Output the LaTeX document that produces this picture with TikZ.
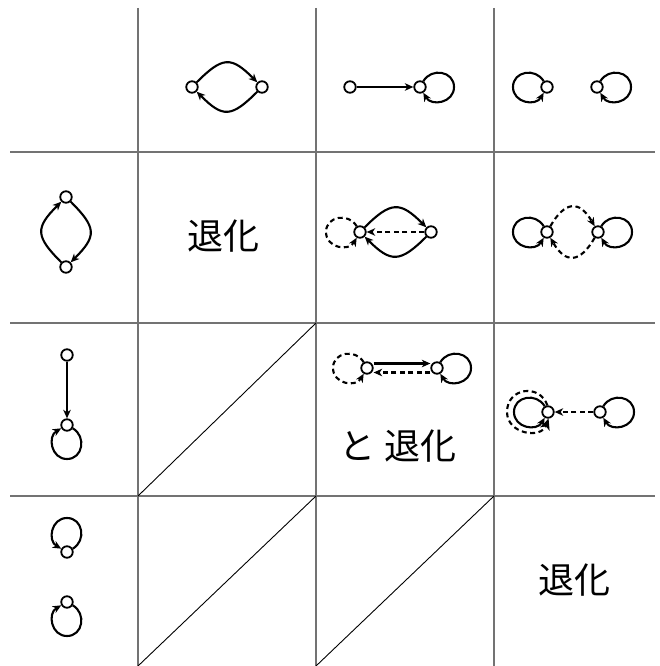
\documentclass[tikz,border=0pt]{standalone}
\usepackage{fontspec}
\newfontfamily\jp{Noto Sans CJK JP}
\usetikzlibrary{arrows.meta}
% #1 node, #2 direction of loop, #3 sense (+1/-1), #4 draw options
\newcommand\mylp[4]{%
  \pgfmathsetmacro\lpA{#2+#3*60}%
  \pgfmathsetmacro\lpB{#2+#3*90}%
  \pgfmathsetmacro\lpC{#2-#3*90}%
  \pgfmathsetmacro\lpD{#2-#3*60}%
  \path (#1) ++(#2:34) coordinate (#1far);
  \draw[#4] (#1) to[out=\lpA,in=\lpB,distance=16pt] (#1far)
                 to[out=\lpC,in=\lpD,distance=16pt] (#1);
}
\begin{document}
\begin{tikzpicture}[x=1pt,y=1pt,
  v/.style={circle,draw,line width=1.8pt,inner sep=0pt,minimum size=11.5pt},
  arr/.style={line width=2.1pt,-{Stealth[length=8.5pt,width=7.5pt,inset=2.5pt]}},
  bigarr/.style={line width=2.1pt,-{Stealth[length=11pt,width=10pt,inset=3pt]}},
  dsh/.style={dash pattern=on 5pt off 3.5pt},
  gridline/.style={draw=black!55,line width=1.4pt},
  diag/.style={line width=0.9pt},
  lbl/.style={font=\jp\fontsize{36}{42}\selectfont},
  arcA/.style={distance=37pt},
  arcB/.style={distance=30pt}
]
\useasboundingbox (0,0) rectangle (660,-666);
% grid
\foreach \x in {138,316,494} \draw[gridline] (\x,-8) -- (\x,-666);
\foreach \y in {152,323,496} \draw[gridline] (10,-\y) -- (655,-\y);
\draw[diag] (138,-496) -- (316,-323);
\draw[diag] (138,-666) -- (316,-496);
\draw[diag] (316,-666) -- (494,-496);

% row 1, col 2
\node[v] (a1) at (192,-87) {};
\node[v] (b1) at (262,-87) {};
\draw[arr] (a1) to[out=45,in=135,arcA] (b1);
\draw[arr] (b1) to[out=-135,in=-45,arcA] (a1);

% row 1, col 3
\node[v] (a2) at (350,-87) {};
\node[v] (b2) at (420,-87) {};
\draw[arr] (a2) -- (b2);
\mylp{b2}{0}{1}{arr}

% row 1, col 4
\node[v] (a3) at (547,-87) {};
\node[v] (b3) at (597,-87) {};
\mylp{a3}{180}{-1}{arr}
\mylp{b3}{0}{1}{arr}

% row 2, col 1
\node[v] (a4) at (66,-197) {};
\node[v] (b4) at (66,-267) {};
\draw[arr] (b4) to[out=135,in=-135,arcA] (a4);
\draw[arr] (a4) to[out=-45,in=45,arcA] (b4);

% row 2, col 2
\node[lbl] (t1) at (223,-236) {退化};

% row 2, col 3
\node[v] (a5) at (360,-232) {};
\node[v] (b5) at (431,-232) {};
\draw[arr] (a5) to[out=45,in=135,arcA] (b5);
\draw[arr] (b5) to[out=-135,in=-45,arcA] (a5);
\draw[arr,dsh] (b5) -- (a5);
\mylp{a5}{180}{-1}{arr,dsh}

% row 2, col 4
\node[v] (a6) at (547,-232) {};
\node[v] (b6) at (598,-232) {};
\mylp{a6}{180}{-1}{arr}
\mylp{b6}{0}{1}{arr}
\draw[arr,dsh] (a6) to[out=60,in=120,arcB] (b6);
\draw[arr,dsh] (b6) to[out=-120,in=-60,arcB] (a6);

% row 3, col 1
\node[v] (a7) at (67,-355) {};
\node[v] (b7) at (67,-425) {};
\draw[arr] (a7) -- (b7);
\mylp{b7}{-90}{1}{arr}

% row 3, col 3
\node[v] (a8) at (367,-368) {};
\node[v] (b8) at (437,-368) {};
\draw[arr] ([yshift=4.5pt]a8.east) -- ([yshift=4.5pt]b8.west);
\draw[arr,dsh] ([yshift=-4.5pt]b8.west) -- ([yshift=-4.5pt]a8.east);
\mylp{a8}{180}{-1}{arr,dsh}
\mylp{b8}{0}{1}{arr}
\node[lbl] (t2) at (398,-446) {と 退化};

% row 3, col 4
\node[v] (a9) at (548,-412) {};
\node[v] (b9) at (600,-412) {};
\coordinate (dl) at (507,-412);
\mylp{a9}{180}{-1}{arr}
\mylp{b9}{0}{1}{arr}
\draw[arr,dsh] (b9) -- (a9);
\draw[bigarr,dsh] (a9.95) to[out=110,in=90,distance=24pt] (dl) to[out=-90,in=-110,distance=22pt] (a9.275);

% row 4, col 1
\node[v] (a10) at (67,-552) {};
\node[v] (b10) at (67,-602) {};
\mylp{a10}{90}{-1}{arr}
\mylp{b10}{-90}{1}{arr}

% row 4, col 4
\node[lbl] (t3) at (574,-580) {退化};
\end{tikzpicture}
\end{document}
